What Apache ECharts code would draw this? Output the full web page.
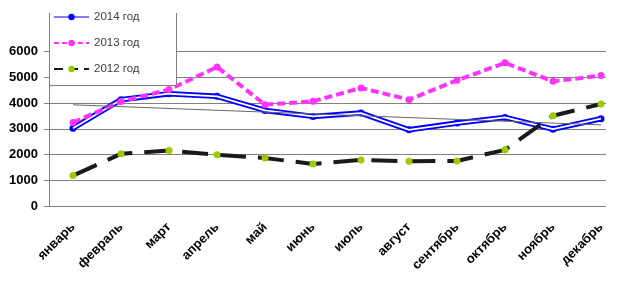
<!DOCTYPE html>
<html>
<head>
	<meta charset="utf-8">
	<title>график</title>
	<script src="https://cdn.jsdelivr.net/npm/echarts@6/dist/echarts.min.js"></script>
	<style>
		html, body { margin:0; padding:0; background:#fff; }
		#chart { width:625px; height:283px; }
	</style>
</head>
<body>
	<div id="chart"></div>
<script type="text/javascript">
var months = ['январь', 'февраль', 'март', 'апрель', 'май', 'июнь', 'июль', 'август', 'сентябрь', 'октябрь', 'ноябрь', 'декабрь'];
var y2014 = [3020, 4130, 4360, 4260, 3710, 3480, 3610, 2960, 3220, 3440, 2985, 3390];
var y2013 = [3245, 4060, 4520, 5400, 3935, 4065, 4585, 4130, 4880, 5560, 4840, 5065];
var y2012 = [1180, 2025, 2155, 1990, 1860, 1635, 1790, 1740, 1750, 2180, 3505, 3960];
// линия тренда 2014, концы
var trend = [3930, null, null, null, null, null, null, null, null, null, null, 3150];
var yTicks = [0, 1000, 2000, 3000, 4000, 5000, 6000];

var font = 'Liberation Sans, Arial, sans-serif';

var option = {
	animation: false,
	grid: { left: 49, right: 0, top: 51.5, bottom: 77 },
	legend: {
		orient: 'vertical',
		left: 53,
		top: 11,
		z: 95,
		itemWidth: 35,
		itemHeight: 8,
		itemGap: 14,
		padding: 0,
		textStyle: { fontFamily: font, fontSize: 11.5, color: '#404040' },
		data: [
			{ name: '2014 год', lineStyle: { color: '#0000ff', width: 1.2 } },
			{ name: '2013 год', lineStyle: { color: '#ff33ff', width: 2, type: [5, 3] } },
			{ name: '2012 год', lineStyle: { color: '#1a1a1a', width: 2, type: [9, 6] } }
		]
	},
	xAxis: {
		type: 'category',
		data: months,
		boundaryGap: true,
		axisLine: { lineStyle: { color: '#808080' } },
		axisTick: { length: 5, lineStyle: { color: '#808080' } },
		axisLabel: {
			rotate: 45,
			margin: 19,
			interval: 0,
			fontFamily: font,
			fontSize: 13,
			fontWeight: 'bold',
			color: '#000'
		}
	},
	yAxis: {
		type: 'value',
		min: yTicks[0],
		max: yTicks[yTicks.length - 1],
		interval: 1000,
		axisLine: { show: true, lineStyle: { color: '#808080' } },
		axisTick: { show: true, length: 5, lineStyle: { color: '#808080' } },
		splitLine: { lineStyle: { color: '#808080', width: 1 } },
		axisLabel: {
			margin: 11,
			fontFamily: font,
			fontSize: 13,
			fontWeight: 'bold',
			color: '#000',
			formatter: function (v) { return String(v); }
		}
	},
	series: [
		{
			name: '2014 год',
			type: 'line',
			data: y2014,
			color: '#0000ff',
			symbol: 'circle',
			symbolSize: 7,
			lineStyle: { color: '#0000ff', width: 5.5 },
			itemStyle: { color: '#0000ff' },
			z: 2
		},
		{
			// белая середина двойной линии
			name: '2014 inner',
			type: 'line',
			data: y2014,
			symbol: 'none',
			silent: true,
			lineStyle: { color: '#fff', width: 1.8 },
			z: 3
		},
		{
			name: '2013 год',
			type: 'line',
			data: y2013,
			color: '#ff33ff',
			symbol: 'circle',
			symbolSize: 7,
			lineStyle: { color: '#ff33ff', width: 4, type: [8, 4] },
			itemStyle: { color: '#ff33ff' },
			z: 4
		},
		{
			name: '2012 год',
			type: 'line',
			data: y2012,
			symbol: 'circle',
			symbolSize: 7,
			lineStyle: { color: '#1a1a1a', width: 4, type: [26, 12] },
			itemStyle: { color: '#99cc00' },
			z: 5
		},
		{
			name: 'trend',
			type: 'line',
			data: trend,
			connectNulls: true,
			symbol: 'none',
			silent: true,
			lineStyle: { color: '#666', width: 1 },
			z: 6
		}
	],
	graphic: [
		// обрезка справа, как на исходной картинке
		{ type: 'rect', shape: { x: 606, y: 0, width: 30, height: 212 }, style: { fill: '#fff' }, z: 100 },
		// рамка легенды
		{ type: 'rect', shape: { x: 49, y: 13, width: 127, height: 72 }, style: { fill: '#fff' }, z: 90 },
		{
			type: 'polyline',
			shape: { points: [[49.5, 13], [49.5, 85.5], [176.5, 85.5], [176.5, 13]] },
			style: { stroke: '#808080', lineWidth: 1, fill: null },
			z: 91
		}
	]
};

var myChart = echarts.init(document.getElementById('chart'));
myChart.setOption(option, true);
</script>
</body>
</html>
